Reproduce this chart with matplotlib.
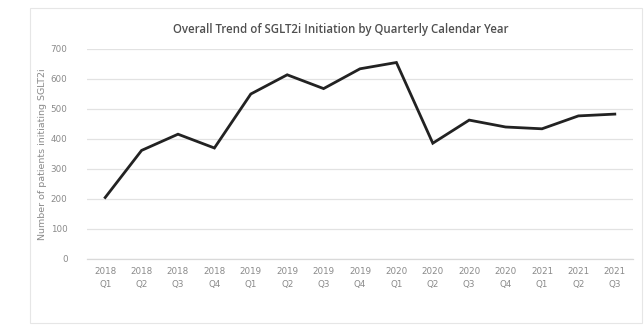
import matplotlib
matplotlib.use("Agg")
import matplotlib.pyplot as plt
from matplotlib.patches import Rectangle

quarters = ["2018\nQ1", "2018\nQ2", "2018\nQ3", "2018\nQ4",
            "2019\nQ1", "2019\nQ2", "2019\nQ3", "2019\nQ4",
            "2020\nQ1", "2020\nQ2", "2020\nQ3", "2020\nQ4",
            "2021\nQ1", "2021\nQ2", "2021\nQ3"]
patients = [205, 362, 416, 370, 550, 614, 568, 634, 655, 386, 463, 440, 434, 477, 483]
yticks = [0, 100, 200, 300, 400, 500, 600, 700]

fig = plt.figure(figsize=(6.44, 3.26), dpi=100)
fig.patch.set_facecolor("white")
fig.patches.append(Rectangle((30/644, 3/326), 612/644, 315/326, transform=fig.transFigure,
                             fill=False, edgecolor="#e6e6e6", linewidth=0.8))

ax = fig.add_axes([87/644, 1 - 259/326, 546/644, 210/326])
x = list(range(len(quarters)))
ax.plot(x, patients, color="#222222", linewidth=2.0, solid_joinstyle="miter")
ax.set_xlim(-0.5, len(quarters) - 0.5)
ax.set_ylim(0, 700)
ax.set_yticks(yticks)
ax.set_yticklabels([str(v) for v in yticks])
ax.set_xticks(x)
ax.set_xticklabels(quarters, linespacing=1.5)
ax.grid(axis="y", color="#e2e2e2", linewidth=0.9)
ax.set_axisbelow(True)
for s in ["top", "right", "left"]:
    ax.spines[s].set_visible(False)
ax.spines["bottom"].set_color("#d9d9d9")
ax.spines["bottom"].set_linewidth(0.9)
ax.tick_params(axis="both", length=0, colors="#8a8a8a", labelsize=6.3)
ax.tick_params(axis="y", pad=14)
ax.tick_params(axis="x", pad=6)
ax.set_ylabel("Number of patients initiating SGLT2i", fontsize=6.8, color="#8a8a8a", labelpad=3)
fig.text(0.529, 1 - 30/326, "Overall Trend of SGLT2i Initiation by Quarterly Calendar Year",
         ha="center", va="center", fontsize=8.3, color="#505050", family="Open Sans",
         fontweight="semibold")
fig.savefig("out.png", dpi=100)
